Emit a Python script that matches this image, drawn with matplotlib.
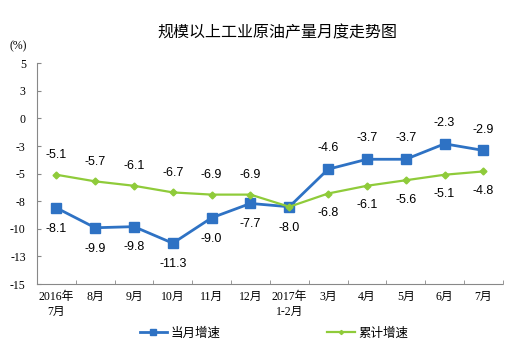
import numpy as np
import matplotlib.pyplot as plt

plt.rcParams['font.family'] = ['Liberation Sans', 'Noto Sans CJK SC']

months = ['2016年\n7月', '8月', '9月', '10月', '11月', '12月', '2017年\n1-2月',
          '3月', '4月', '5月', '6月', '7月']
dangyue = [-8.1, -9.9, -9.8, -11.3, -9.0, -7.7, -8.0, -4.6, -3.7, -3.7, -2.3, -2.9]
leiji = [-5.1, -5.7, -6.1, -6.7, -6.9, -6.9, -8.0, -6.8, -6.1, -5.6, -5.1, -4.8]
yticks = [5, 2.5, 0, -2.5, -5, -7.5, -10, -12.5, -15]
ytick_labels = ['5', '3', '0', '-3', '-5', '-8', '-10', '-13', '-15']

# label above (1) or below (-1)
pos_dy = [-1, -1, -1, -1, -1, -1, -1, 1, 1, 1, 1, 1]
pos_lj = [1, 1, 1, 1, 1, 1, 0, -1, -1, -1, -1, -1]

blue = '#2E72C4'
green = '#8FCB3A'
serif = ['Liberation Serif', 'Noto Sans CJK SC']

fig = plt.figure(figsize=(5.2, 3.49), dpi=100)
ax = fig.add_axes([0.071, 0.186, 0.896, 0.633])

x = np.arange(len(months))
ax.plot(x, dangyue, color=blue, lw=2.0, marker='s', ms=6.5, label='当月增速')
ax.plot(x, leiji, color=green, lw=1.6, marker='D', ms=3.5, label='累计增速')

for i in x:
    ax.annotate(f'{dangyue[i]:.1f}', (i, dangyue[i]), xytext=(0, 15 * pos_dy[i]),
                textcoords='offset points', ha='center', va='center', fontsize=9)
    if pos_lj[i] != 0:
        ax.annotate(f'{leiji[i]:.1f}', (i, leiji[i]), xytext=(0, 14 * pos_lj[i]),
                    textcoords='offset points', ha='center', va='center', fontsize=9)

ax.set_xlim(-0.5, len(months) - 0.5)
ax.set_ylim(-15, 5)
ax.set_yticks(yticks)
ax.set_yticklabels(ytick_labels, family=serif, fontsize=8.5)
ax.set_xticks(x)
ax.set_xticklabels(months, family=serif, fontsize=8.5, linespacing=1.3)
ax.set_xticks(np.arange(-0.5, len(months)), minor=True)
ax.tick_params(axis='x', which='major', length=0, pad=5)
ax.tick_params(axis='x', which='minor', direction='in', length=3, color='#888888')
ax.tick_params(axis='y', direction='in', length=3, color='#888888', pad=8)

for s in ['top', 'right']:
    ax.spines[s].set_visible(False)
for s in ['left', 'bottom']:
    ax.spines[s].set_color('#888888')
    ax.spines[s].set_linestyle((0, (1, 1)))
    ax.spines[s].set_linewidth(0.8)

fig.text(0.533, 0.905, '规模以上工业原油产量月度走势图', ha='center', va='center', fontsize=11.5)
fig.text(0.035, 0.868, '(%)', ha='center', va='center', fontsize=8.5, family=serif)

fig.legend(loc='center', bbox_to_anchor=(0.527, 0.045), ncol=2, frameon=False,
           fontsize=9, columnspacing=8.5, handlelength=2.2, handletextpad=0.3,
           markerscale=0.6)

fig.savefig('out.png', dpi=100)
